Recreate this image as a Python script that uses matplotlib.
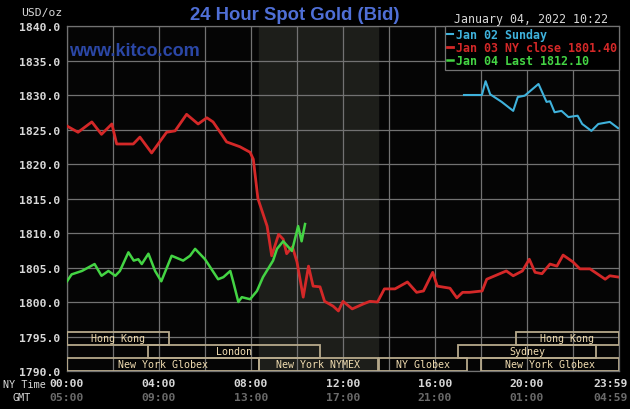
import matplotlib
matplotlib.use('Agg')
import matplotlib.pyplot as plt
from matplotlib.patches import Rectangle
from matplotlib.transforms import blended_transform_factory

# hours since NY midnight, gold price (USD/oz)
jan03_hours = [0, 0.48, 1.08, 1.5, 1.95, 2.16, 2.88, 3.17, 3.68, 4.33, 4.7, 5.2, 5.7, 6.08,
               6.35, 6.72, 6.94, 7.52, 7.96, 8.1, 8.3, 8.7, 8.9, 9.2, 9.4, 9.55, 9.8, 10.0,
               10.27, 10.5, 10.7, 11.0, 11.2, 11.57, 11.8, 12.0, 12.4, 12.87, 13.17, 13.5,
               13.8, 14.26, 14.8, 15.2, 15.5, 15.9, 16.1, 16.65, 16.95, 17.2, 17.5, 18.05,
               18.25, 19.1, 19.4, 19.8, 20.1, 20.35, 20.65, 21.0, 21.3, 21.57, 22.0, 22.3,
               22.74, 23.4, 23.6, 24.0]
jan03_price = [1825.5, 1824.6, 1826.1, 1824.3, 1825.8, 1822.9, 1822.9, 1823.9, 1821.6, 1824.6,
               1824.8, 1827.2, 1825.8, 1826.7, 1826.1, 1824.3, 1823.2, 1822.5, 1821.7, 1820.7,
               1815.0, 1811.0, 1806.7, 1809.8, 1809.1, 1807.0, 1808.0, 1805.8, 1800.7, 1805.2,
               1802.3, 1802.2, 1800.1, 1799.4, 1798.7, 1800.1, 1799.0, 1799.7, 1800.1, 1800.0,
               1801.9, 1801.9, 1802.9, 1801.4, 1801.6, 1804.3, 1802.3, 1802.0, 1800.6, 1801.4,
               1801.4, 1801.6, 1803.3, 1804.5, 1803.8, 1804.5, 1806.2, 1804.3, 1804.1, 1805.5,
               1805.2, 1806.8, 1805.8, 1804.8, 1804.8, 1803.3, 1803.8, 1803.6]

jan04_hours = [0, 0.2, 0.65, 1.2, 1.5, 1.8, 2.1, 2.3, 2.67, 2.9, 3.1, 3.25, 3.54, 3.83, 4.1,
               4.55, 5.05, 5.35, 5.57, 6.0, 6.57, 6.8, 7.1, 7.23, 7.45, 7.6, 7.96, 8.26, 8.52,
               8.96, 9.13, 9.4, 9.78, 10.05, 10.2, 10.35]
jan04_price = [1803.0, 1804.0, 1804.5, 1805.5, 1803.8, 1804.5, 1803.8, 1804.5, 1807.2, 1806.0,
               1806.2, 1805.5, 1807.0, 1804.5, 1803.0, 1806.7, 1806.0, 1806.7, 1807.7, 1806.2,
               1803.3, 1803.6, 1804.5, 1802.9, 1800.0, 1800.7, 1800.4, 1801.6, 1803.6, 1806.0,
               1807.7, 1808.8, 1807.4, 1811.0, 1808.8, 1811.3]

jan02_hours = [17.26, 18.04, 18.2, 18.4, 18.9, 19.4, 19.6, 19.9, 20.5, 20.85, 21.0, 21.2, 21.5,
               21.8, 22.2, 22.4, 22.8, 23.1, 23.6, 23.96]
jan02_price = [1830.0, 1830.0, 1832.0, 1830.1, 1829.0, 1827.7, 1829.7, 1829.9, 1831.6, 1829.0,
               1829.1, 1827.5, 1827.7, 1826.8, 1827.0, 1825.8, 1824.8, 1825.8, 1826.1, 1825.2]

series_labels = ['Jan 02 Sunday', 'Jan 03 NY close 1801.40', 'Jan 04 Last 1812.10']

# trading sessions: (name, start hour, end hour, row)  row 0 = bottom
sessions = [('Hong Kong', 0, 4.43, 2), ('Hong Kong', 19.5, 24, 2),
            ('London', 3.5, 11.0, 1), ('Sydney', 17.0, 23.0, 1),
            ('New York Globex', 0, 8.33, 0), ('New York NYMEX', 8.33, 13.5, 0),
            ('NY Globex', 13.55, 17.4, 0), ('New York Globex', 18.0, 24, 0)]

ny_ticks = [0, 4, 8, 12, 16, 20, 23.65]
ny_labels = ['00:00', '04:00', '08:00', '12:00', '16:00', '20:00', '23:59']
gmt_labels = ['05:00', '09:00', '13:00', '17:00', '21:00', '01:00', '04:59']
y_ticks = [1790, 1795, 1800, 1805, 1810, 1815, 1820, 1825, 1830, 1835, 1840]

mono = 'DejaVu Sans Mono'
grid_c = '#727272'
txt_c = '#d8d8d8'

fig = plt.figure(figsize=(6.3, 4.1), dpi=100, facecolor='black')
ax = fig.add_axes([67/630, 38/410, 552/630, 345/410])
ax.set_facecolor('#050505')
ax.set_xlim(0, 24)
ax.set_ylim(1790, 1840)

# NYMEX shaded hours
ax.axvspan(8.33, 13.5, color='#1d1e1a', zorder=0)

ax.set_xticks(range(0, 25, 2))
ax.set_yticks(y_ticks)
ax.grid(True, color=grid_c, lw=0.9, zorder=1)
ax.tick_params(length=0, labelbottom=False, pad=5)
ax.set_yticklabels(['%.1f' % v for v in y_ticks], family=mono, weight='bold',
                   color=txt_c, fontsize=8.2)
for s in ax.spines.values():
    s.set_color(grid_c)
    s.set_linewidth(0.9)

l2, = ax.plot(jan02_hours, jan02_price, color='#3fb2dc', lw=1.5, zorder=4)
l3, = ax.plot(jan03_hours, jan03_price, color='#d42828', lw=2.0, zorder=3)
l4, = ax.plot(jan04_hours, jan04_price, color='#44d444', lw=1.8, zorder=4)

# session boxes
row_h = 1.9
for name, x0, x1, row in sessions:
    y0 = 1790 + row * row_h
    ax.add_patch(Rectangle((x0, y0), x1 - x0, row_h, fill=False, ec='#b7aa8c',
                           lw=1.3, zorder=5))
    ax.text((x0 + x1) / 2, y0 + row_h / 2, name, ha='center', va='center',
            family=mono, fontsize=7.2, color='#f0dcb0', zorder=6)

leg = ax.legend([l2, l3, l4], series_labels, loc='upper right', bbox_to_anchor=(1, 1),
                borderaxespad=0, frameon=True, fancybox=False, facecolor='black',
                edgecolor=grid_c, framealpha=1, handlelength=0.5, handletextpad=0.25,
                labelspacing=0.0, borderpad=0.2,
                prop={'family': mono, 'weight': 'bold', 'size': 8.4})
leg.get_frame().set_linewidth(0.9)
leg.set_zorder(7)
for t, ln in zip(leg.get_texts(), [l2, l3, l4]):
    t.set_color(ln.get_color())

# time axis labels
tr = blended_transform_factory(ax.transData, fig.transFigure)
for x, a, b in zip(ny_ticks, ny_labels, gmt_labels):
    ax.text(x, 1 - 384/410, a, transform=tr, ha='center', va='center', family=mono,
            weight='bold', fontsize=8.2, color=txt_c)
    ax.text(x, 1 - 398/410, b, transform=tr, ha='center', va='center', family=mono,
            weight='bold', fontsize=8.2, color='#6a6a6a')
fig.text(3/630, 1 - 385/410, 'NY Time', ha='left', va='center', family=mono,
         fontsize=7.3, color=txt_c)
fig.text(12/630, 1 - 398/410, 'GMT', ha='left', va='center', family=mono,
         fontsize=7.3, color=txt_c)

fig.text(62/630, 1 - 13/410, 'USD/oz', ha='right', va='center', family=mono,
         fontsize=8.2, color=txt_c)
fig.text(295/630, 1 - 15/410, '24 Hour Spot Gold (Bid)', ha='center', va='center',
         family='Liberation Sans', weight='bold', fontsize=13.3, color='#4f6fd6')
fig.text(608/630, 1 - 20/410, 'January 04, 2022 10:22', ha='right', va='center',
         family=mono, fontsize=8.4, color=txt_c)
ax.text(0.003, 0.93, 'www.kitco.com', transform=ax.transAxes, ha='left', va='center',
        family='Liberation Sans', weight='bold', fontsize=13, color='#2b47a6', zorder=2)

fig.savefig('out.png', dpi=100, facecolor='black')
